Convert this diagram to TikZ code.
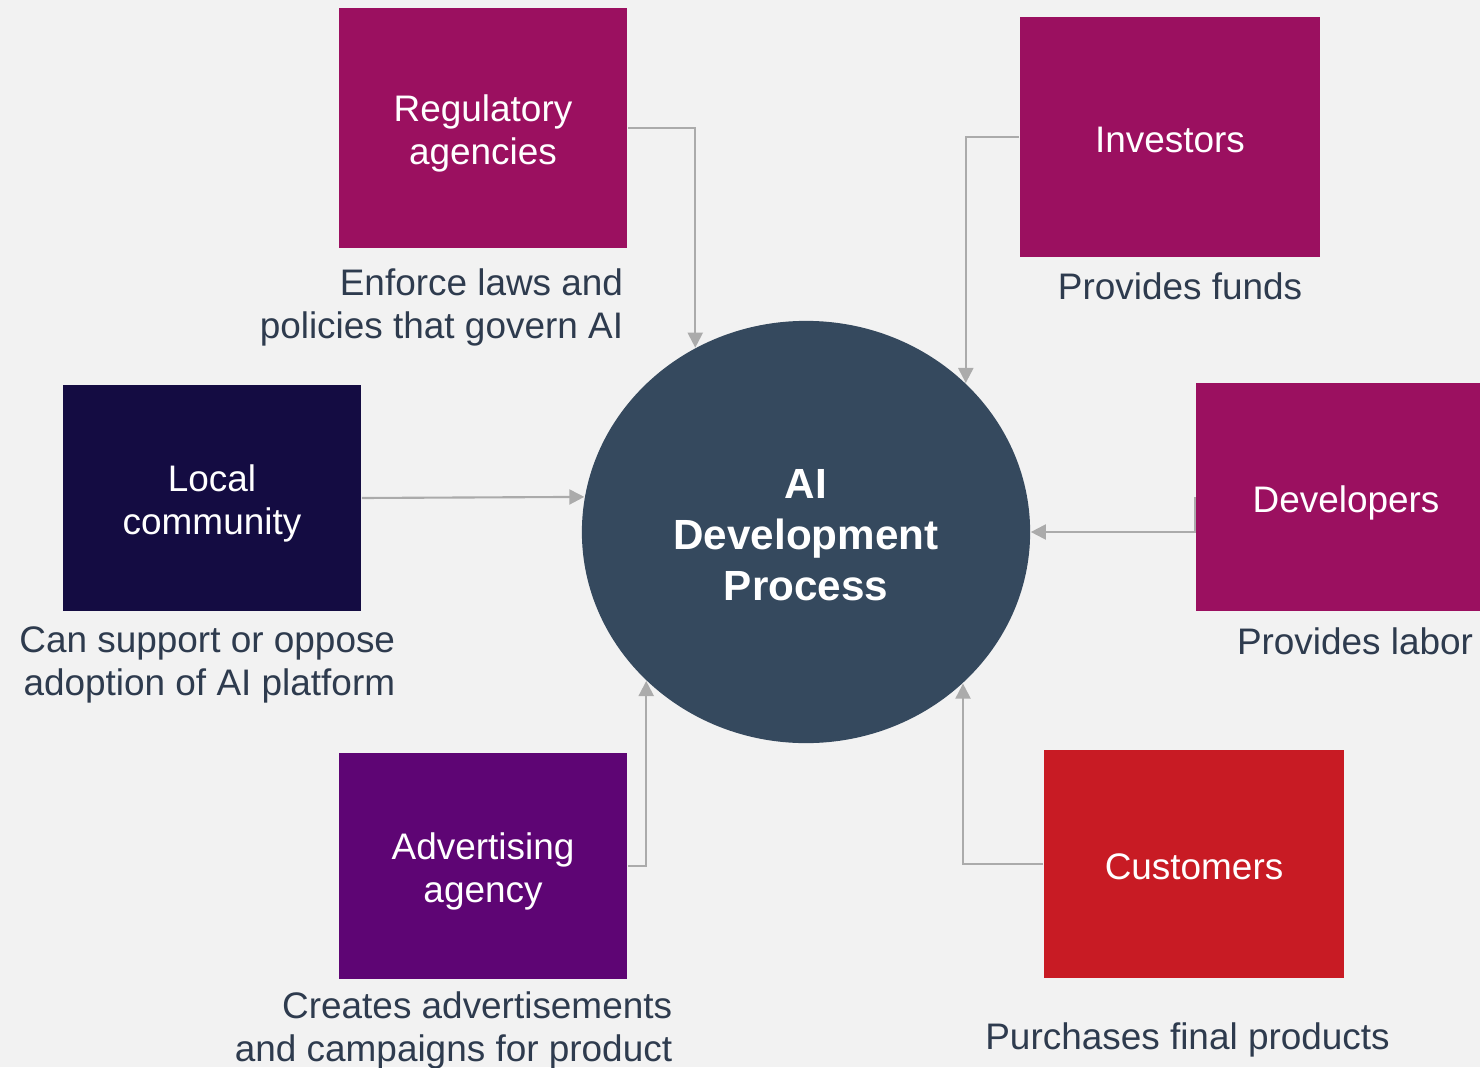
\documentclass[tikz,border=0pt]{standalone}
\usepackage{fontspec}
\setmainfont{Liberation Sans}
\usepackage{tikz}
\usetikzlibrary{positioning,shapes.geometric,arrows.meta}

\definecolor{bgcol}{HTML}{F2F2F2}
\definecolor{wine}{HTML}{9B1060}
\definecolor{navy}{HTML}{140C42}
\definecolor{plum}{HTML}{5E0574}
\definecolor{crimson}{HTML}{C81B24}
\definecolor{slate}{HTML}{35495E}
\definecolor{notecol}{HTML}{2E3B4E}
\definecolor{linkcol}{HTML}{ABABAB}

% extra room above the first line of a box text
\newcommand{\toproom}[1]{\rule{0pt}{#1}}

\begin{document}
\begin{tikzpicture}[x=0.01cm, y=-0.01cm, >={Triangle[length=1.5mm,width=1.5mm]},
    actor/.style={rectangle, inner sep=0, text=white, align=center,
        font=\fontsize{10.5}{12.3}\selectfont,
        execute at end node={\rule[-2.5pt]{0pt}{0pt}}},
    note/.style={inner sep=0, text=notecol, align=center,
        font=\fontsize{10.5}{12.3}\selectfont},
    link/.style={->, draw=linkcol, line width=0.6pt}]

        %Background
        \fill[bgcol] (0,0) rectangle (1480,1067);
        \useasboundingbox (0,0) rectangle (1480,1067);

        %Nodes
        \node[ellipse, fill=slate, inner sep=0, minimum width=4.48cm, minimum height=4.22cm,
              text=white, align=center, font=\bfseries\fontsize{12}{14.5}\selectfont]
              (proc) at (806,532) {\toproom{10.3pt}AI\\Development\\Process};
        \node[actor, fill=wine, minimum width=2.88cm, minimum height=2.40cm] (reg) at (483,128) {\toproom{11.1pt}Regulatory\\agencies};
        \node[actor, fill=wine, minimum width=3.00cm, minimum height=2.40cm] (inv) at (1170,137) {\toproom{11.1pt}Investors};
        \node[actor, fill=navy, minimum width=2.98cm, minimum height=2.26cm] (loc) at (212,498) {\toproom{11.1pt}Local\\community};
        \node[actor, fill=wine, minimum width=3.00cm, minimum height=2.28cm] (dev) at (1346,497) {\toproom{11.1pt}Developers};
        \node[actor, fill=plum, minimum width=2.88cm, minimum height=2.26cm] (adv) at (483,866) {\toproom{11.1pt}Advertising\\agency};
        \node[actor, fill=crimson, minimum width=3.00cm, minimum height=2.28cm] (cus) at (1194,864) {\toproom{11.1pt}Customers};

        %Notes
        \node[note, align=right, below=0.19cm of reg.south east, anchor=north east, xshift=-0.4mm] (regnote) {Enforce laws and\\policies that govern AI};
        \node[note, below=0.14cm of inv, xshift=1mm] (invnote) {Provides funds};
        \node[note, align=right, below=0.14cm of loc.south east, anchor=north east, xshift=3.4mm] (locnote) {Can support or oppose\\adoption of AI platform};
        \node[note, below=0.15cm of dev, xshift=0.9mm] (devnote) {Provides labor};
        \node[note, align=right, below=0.11cm of adv.south east, anchor=north east, xshift=4.5mm] (advnote) {Creates advertisements\\and campaigns for product};
        \node[note, below=0.43cm of cus, xshift=-0.65mm] (cusnote) {Purchases final products};

        %Lines
        \draw[link] (reg.east) -| (proc.121.8);
        \draw[link] (inv.west) -| (proc.43.7);
        \draw[link] (loc.east) -- (proc.171);
        \draw[link] (dev.west) |- (proc.east);
        \draw[link] (adv.east) -| (proc.223.5);
        \draw[link] (cus.west) -| (proc.316.3);

\end{tikzpicture}
\end{document}
